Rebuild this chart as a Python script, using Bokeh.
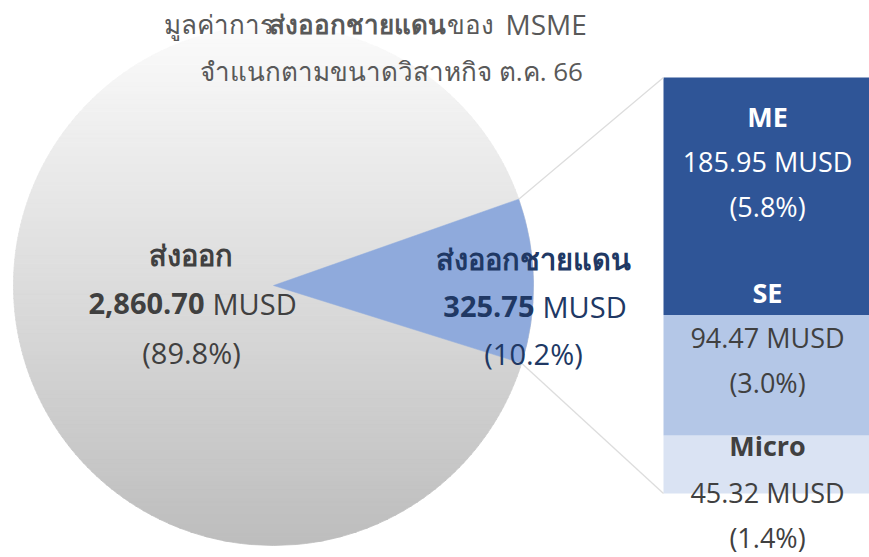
import numpy as np
from bokeh.plotting import figure
from bokeh.models import Range1d
from bokeh.core.properties import value
from bokeh.embed import file_html
from bokeh.resources import INLINE

# ---------------- data ----------------
pie_labels = ["ส่งออก", "ส่งออกชายแดน"]
pie_values = [2860.70, 325.75]
pie_value_text = ["2,860.70", "325.75"]
pie_pcts = ["(89.8%)", "(10.2%)"]

bar_labels = ["ME", "SE", "Micro"]
bar_values = [185.95, 94.47, 45.32]
bar_value_text = ["185.95 MUSD", "94.47 MUSD", "45.32 MUSD"]
bar_pcts = ["(5.8%)", "(3.0%)", "(1.4%)"]

title_l1 = ["มูลค่าการ", "ส่งออกชายแดน", "ของ", "MSME"]
title_l2 = "จำแนกตามขนาดวิสาหกิจ ต.ค. 66"
unit = "MUSD"

# ---------------- layout ----------------
W, H = 869, 557
def sy(y):  # screen y -> data y
    return H - y

FONT = value("Open Sans")
GRAY = "#404040"
TGRAY = "#595959"
NAVY = "#203864"

p = figure(width=W, height=H, x_range=Range1d(0, W), y_range=Range1d(0, H),
           output_backend="svg", toolbar_location=None, min_border=0)
p.axis.visible = False
p.grid.visible = False
p.outline_line_color = None
p.background_fill_color = "white"

cx, cy, R = 273.0, sy(285), 260.0

# gradient gray pie (horizontal strips)
N = 120
edges = np.linspace(cy - R, cy + R, N + 1)
xs, ys, cols = [], [], []
for i in range(N):
    y0, y1 = edges[i], min(edges[i + 1] + 0.6, cy + R)
    yy = np.linspace(y0, y1, 6)
    hw = np.sqrt(np.clip(R**2 - (yy - cy) ** 2, 0, None))
    xs.append(list(cx + hw) + list((cx - hw)[::-1]))
    ys.append(list(yy) + list(yy[::-1]))
    t = (cy + R - 0.5 * (edges[i] + edges[i + 1])) / (2 * R)
    g = int(round(251 - t * (251 - 189)))
    cols.append("#%02x%02x%02x" % (g, g, g))
p.patches(xs, ys, fill_color=cols, line_color=cols, line_width=0.8)

# border slice
total = sum(pie_values)
span = 2 * np.pi * pie_values[1] / total
offset = np.deg2rad(1.0)
a0, a1 = -span / 2 + offset, span / 2 + offset
p.wedge(x=cx, y=cy, radius=R, start_angle=a0, end_angle=a1,
        fill_color="#8FAADC", line_color="#8FAADC", line_width=0.5)

# stacked bar
bx0, bx1 = 663, 869
btop, bbot = sy(77), sy(493)
bar_total = sum(bar_values)
scale = (btop - bbot) / bar_total
order = [2, 1, 0]  # Micro bottom, SE, ME top
bar_colors = {0: "#2F5597", 1: "#B4C7E7", 2: "#DAE3F3"}
cum = bbot
bottoms, tops, fc = [], [], []
for k in order:
    bottoms.append(cum)
    cum += bar_values[k] * scale
    tops.append(cum)
    fc.append(bar_colors[k])
p.quad(left=bx0, right=bx1, bottom=bottoms, top=tops, fill_color=fc, line_color=None)

# connector lines
p.segment(x0=[cx + R * np.cos(a1), cx + R * np.cos(a0)],
          y0=[cy + R * np.sin(a1), cy + R * np.sin(a0)],
          x1=[bx0, bx0], y1=[btop, bbot],
          line_color="#DDDDDD", line_width=1.3)

# ---------------- texts ----------------
def txt(x, y, s, size, color, bold=False, align="center"):
    p.text(x=[x], y=[sy(y)], text=[s], text_font=FONT, text_font_size=f"{size}px",
           text_color=color, text_align=align, text_baseline="alphabetic",
           text_font_style="bold" if bold else "normal")

# title
TS = 26
txt(273, 23, title_l1[0], TS, TGRAY, align="right")
txt(357, 23, title_l1[1], TS, TGRAY, bold=True)
txt(446, 23, title_l1[2], TS, TGRAY, align="left")
txt(505, 23, title_l1[3], TS + 2, TGRAY, align="left")
txt(391, 70, title_l2, TS, TGRAY)

# pie labels
PS = 29
txt(190, 254, pie_labels[0], PS, GRAY, bold=True)
txt(204, 303, pie_value_text[0], PS, GRAY, bold=True, align="right")
txt(212, 303, unit, PS, GRAY, align="left")
txt(191, 352, pie_pcts[0], PS, GRAY)

txt(533, 258, pie_labels[1], PS, NAVY, bold=True)
txt(534, 306, pie_value_text[1], PS, NAVY, bold=True, align="right")
txt(542, 306, unit, PS, NAVY, align="left")
txt(533, 353, pie_pcts[1], PS, NAVY)

# bar labels
BS = 27
bxc = 767
txt(bxc, 116, bar_labels[0], BS, "white", bold=True)
txt(bxc, 161, bar_value_text[0], BS, "white")
txt(bxc, 206, bar_pcts[0], BS, "white")
txt(bxc, 292, bar_labels[1], BS, "white", bold=True)
txt(bxc, 337, bar_value_text[1], BS, GRAY)
txt(bxc, 382, bar_pcts[1], BS, GRAY)
txt(bxc, 445, bar_labels[2], BS, GRAY, bold=True)
txt(bxc, 492, bar_value_text[2], BS, GRAY)
txt(bxc, 537, bar_pcts[2], BS, GRAY)

open("out.html", "w").write(file_html(p, INLINE))
